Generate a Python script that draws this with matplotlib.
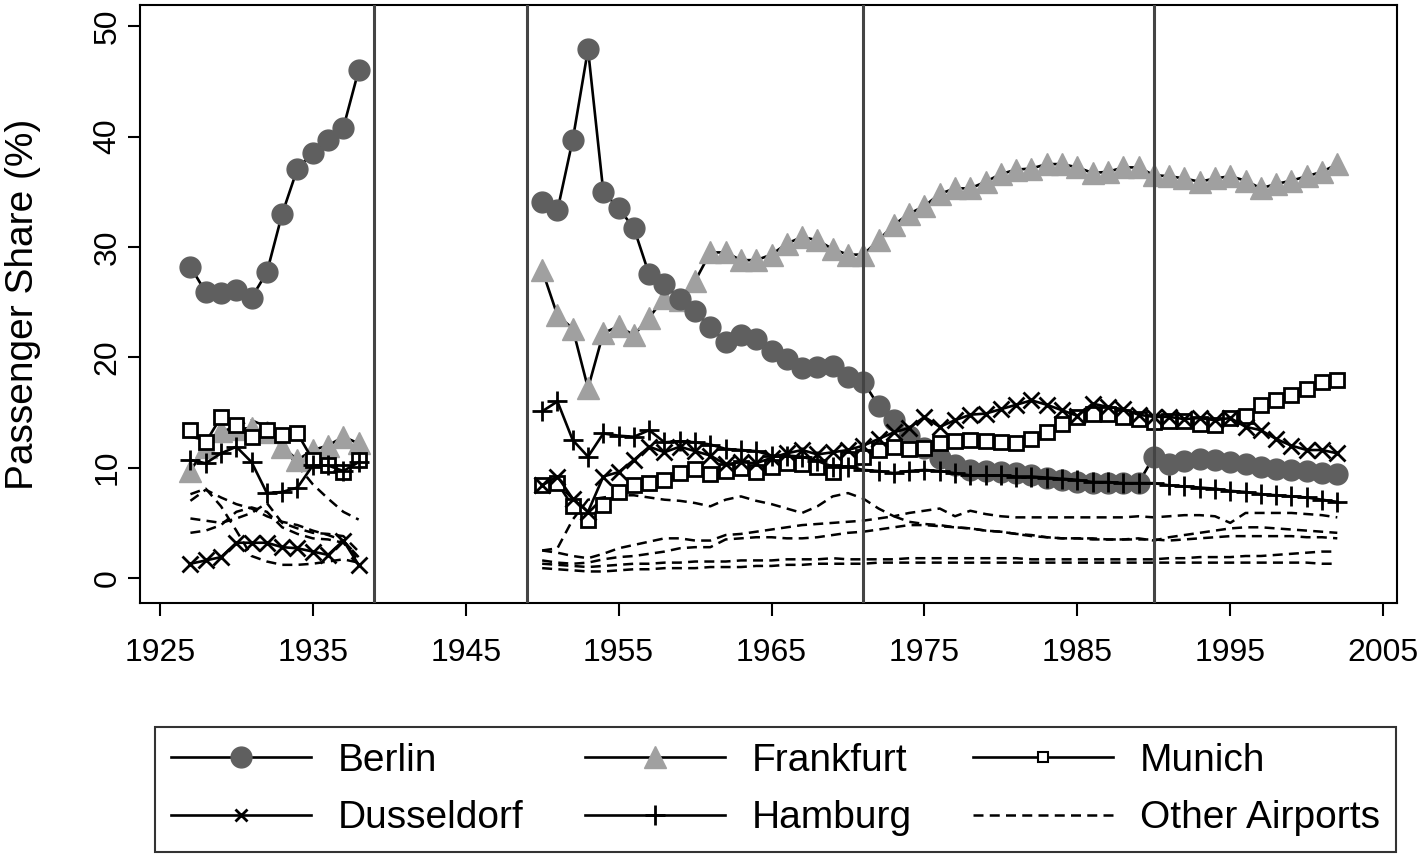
import numpy as np
import matplotlib
matplotlib.use("Agg")
import matplotlib.pyplot as plt
from matplotlib.lines import Line2D

plt.rcParams['font.family'] = ['Liberation Sans', 'DejaVu Sans']

# years of the two periods (gap 1939-1949)
years_pre = list(range(1927, 1939))
years_post = list(range(1950, 2003))

berlin_pre = [28.2, 25.9, 25.8, 26.1, 25.4, 27.7, 33.0, 37.1, 38.5, 39.7, 40.8, 46.0]
berlin_post = [34.1, 33.3, 39.7, 47.9, 35.0, 33.5, 31.7, 27.5, 26.6, 25.3,
               24.2, 22.7, 21.4, 22.0, 21.7, 20.6, 19.8, 19.0, 19.1, 19.2,
               18.2, 17.8, 15.6, 14.3, 12.9, 11.8, 10.9, 10.2, 9.8, 9.7,
               9.6, 9.5, 9.3, 9.1, 8.9, 8.7, 8.6, 8.6, 8.6, 8.6,
               11.0, 10.3, 10.6, 10.8, 10.7, 10.5, 10.3, 10.1, 9.9, 9.8,
               9.7, 9.5, 9.4]

frankfurt_pre = [9.7, 11.9, 13.3, 13.5, 13.6, 13.2, 11.9, 10.7, 11.6, 12.0, 12.8, 12.2]
frankfurt_post = [27.9, 23.8, 22.6, 17.2, 22.2, 22.8, 22.0, 23.6, 25.4, 25.2,
                  26.9, 29.5, 29.5, 28.8, 28.8, 29.3, 30.3, 30.9, 30.6, 29.8,
                  29.3, 29.3, 30.6, 32.0, 33.0, 33.7, 34.8, 35.3, 35.3, 35.9,
                  36.6, 37.0, 37.1, 37.5, 37.5, 37.2, 36.7, 36.8, 37.2, 37.2,
                  36.5, 36.4, 36.2, 35.9, 36.2, 36.4, 36.0, 35.3, 35.7, 36.0,
                  36.4, 36.8, 37.5]

munich_pre = [13.4, 12.3, 14.6, 13.9, 12.8, 13.4, 13.0, 13.1, 10.7, 10.2, 9.6, 10.7]
munich_post = [8.4, 8.6, 6.5, 5.3, 6.6, 7.8, 8.4, 8.6, 8.9, 9.5,
               9.9, 9.4, 9.7, 10.0, 9.6, 10.1, 10.4, 10.3, 10.1, 9.6,
               10.8, 11.0, 11.6, 11.9, 11.7, 11.8, 12.2, 12.4, 12.5, 12.4,
               12.3, 12.2, 12.6, 13.2, 14.0, 14.6, 14.9, 14.9, 14.6, 14.4,
               14.1, 14.2, 14.2, 14.0, 13.9, 14.5, 14.7, 15.7, 16.1, 16.6,
               17.1, 17.8, 17.9]

dusseldorf_pre = [1.3, 1.6, 1.9, 3.2, 3.2, 3.2, 2.8, 2.7, 2.4, 2.1, 3.4, 1.2]
dusseldorf_post = [8.4, 9.2, 7.2, 6.0, 9.2, 9.6, 10.7, 11.9, 11.4, 11.9,
                   11.5, 11.1, 10.3, 10.5, 10.4, 10.9, 11.3, 11.6, 11.2, 11.4,
                   11.6, 12.0, 12.6, 13.2, 13.6, 14.6, 13.7, 14.3, 14.8, 14.9,
                   15.3, 15.7, 16.1, 15.7, 15.2, 14.7, 15.8, 15.5, 15.3, 14.8,
                   14.6, 14.6, 14.4, 14.5, 14.3, 14.5, 13.7, 13.4, 12.6, 12.0,
                   11.6, 11.6, 11.3]

hamburg_pre = [10.7, 10.4, 11.3, 11.9, 10.5, 7.7, 7.8, 8.2, 10.2, 10.2, 9.7, 10.5]
hamburg_post = [15.1, 16.0, 12.5, 11.0, 13.1, 12.9, 12.8, 13.4, 12.3, 12.4,
                12.3, 12.1, 11.7, 11.6, 11.5, 11.1, 11.1, 11.0, 10.6, 10.1,
                10.1, 9.8, 9.7, 9.5, 9.7, 9.8, 9.7, 9.5, 9.3, 9.3,
                9.3, 9.2, 9.2, 9.1, 9.0, 8.9, 8.7, 8.7, 8.6, 8.6,
                8.6, 8.4, 8.3, 8.2, 8.1, 7.9, 7.8, 7.6, 7.5, 7.4,
                7.3, 7.1, 6.9]

# other airports (one list per airport)
other_pre = [
    [7.6, 8.1, 6.5, 4.3, 2.0, 1.5, 1.2, 1.2, 1.3, 1.5, 1.7, 1.4],
    [5.4, 5.2, 5.0, 5.4, 5.9, 6.8, 5.0, 4.5, 4.1, 4.0, 3.8, 2.4],
    [4.1, 4.3, 4.8, 6.0, 6.4, 6.0, 4.6, 4.0, 3.6, 3.5, 3.2, 1.6],
    [7.0, 8.0, 7.3, 6.7, 6.3, 5.6, 5.1, 4.8, 4.3, 3.9, 3.4, 1.9],
    [12.8, 12.5, 13.2, 13.8, 14.3, 13.7, 12.0, 10.2, 8.5, 7.2, 6.0, 5.3],
]
other_post = [
    [2.5, 2.7, 5.3, 7.1, 7.3, 7.5, 7.5, 7.3, 7.1, 7.0,
     6.8, 6.5, 7.1, 7.4, 7.0, 6.7, 6.3, 5.9, 6.5, 7.4,
     7.7, 7.2, 6.3, 5.6, 5.9, 6.1, 6.3, 5.6, 6.1, 5.8,
     5.6, 5.5, 5.5, 5.5, 5.5, 5.5, 5.5, 5.5, 5.5, 5.6,
     5.5, 5.6, 5.7, 5.7, 5.6, 5.0, 5.9, 5.9, 5.9, 5.9,
     5.8, 5.7, 5.5],
    [2.5, 2.3, 2.0, 1.8, 2.2, 2.7, 3.0, 3.3, 3.6, 3.6,
     3.4, 3.4, 3.9, 4.0, 4.2, 4.4, 4.6, 4.8, 4.9, 5.0,
     5.1, 5.2, 5.4, 5.6, 5.1, 4.9, 4.8, 4.6, 4.5, 4.3,
     4.2, 4.0, 3.8, 3.7, 3.6, 3.6, 3.6, 3.5, 3.5, 3.6,
     3.4, 3.7, 3.9, 4.1, 4.3, 4.5, 4.6, 4.6, 4.5, 4.4,
     4.3, 4.2, 4.1],
    [1.6, 1.4, 1.3, 1.4, 1.7, 1.9, 2.0, 2.2, 2.4, 2.7,
     2.8, 2.8, 3.5, 3.6, 3.7, 3.7, 3.6, 3.6, 3.7, 3.9,
     4.1, 4.2, 4.4, 4.6, 4.8, 4.8, 4.7, 4.6, 4.5, 4.3,
     4.2, 4.0, 3.9, 3.7, 3.6, 3.6, 3.5, 3.5, 3.5, 3.5,
     3.5, 3.4, 3.5, 3.6, 3.7, 3.8, 3.8, 3.8, 3.8, 3.8,
     3.7, 3.7, 3.6],
    [1.3, 1.2, 1.1, 1.0, 1.1, 1.2, 1.3, 1.3, 1.4, 1.4,
     1.5, 1.5, 1.5, 1.6, 1.6, 1.6, 1.7, 1.7, 1.7, 1.8,
     1.7, 1.7, 1.7, 1.7, 1.8, 1.8, 1.8, 1.8, 1.8, 1.8,
     1.8, 1.8, 1.7, 1.7, 1.7, 1.7, 1.7, 1.7, 1.7, 1.7,
     1.7, 1.8, 1.8, 1.9, 1.9, 1.9, 2.0, 2.0, 2.1, 2.2,
     2.3, 2.4, 2.4],
    [0.9, 0.8, 0.7, 0.6, 0.6, 0.7, 0.8, 0.8, 0.9, 0.9,
     0.9, 1.0, 1.0, 1.0, 1.1, 1.1, 1.2, 1.2, 1.3, 1.3,
     1.3, 1.3, 1.4, 1.4, 1.4, 1.4, 1.4, 1.4, 1.4, 1.4,
     1.4, 1.4, 1.4, 1.4, 1.4, 1.4, 1.4, 1.4, 1.4, 1.4,
     1.4, 1.4, 1.4, 1.4, 1.4, 1.4, 1.4, 1.4, 1.4, 1.4,
     1.4, 1.3, 1.3],
]

breaks = [1939, 1949, 1971, 1990]

years = years_pre + [1944] + years_post


def join(pre, post):
    return np.array(pre + [np.nan] + post, dtype=float)


DASH = (0, (4, 2.5))

fig = plt.figure(figsize=(14.24, 8.55), dpi=100)
ax = fig.add_axes([0.0983, 0.2947, 0.8827, 0.6993])

for pre, post in zip(other_pre, other_post):
    ax.plot(years, join(pre, post), color='black', lw=1.8, ls=DASH, zorder=2)

ax.plot(years, join(frankfurt_pre, frankfurt_post), color='black', lw=1.9, marker='^',
        ms=16, mfc='#a0a0a0', mec='#a0a0a0', zorder=3)
ax.plot(years, join(berlin_pre, berlin_post), color='black', lw=1.9, marker='o',
        ms=15, mfc='#5f5f5f', mec='#5f5f5f', zorder=4)
ax.plot(years, join(munich_pre, munich_post), color='black', lw=1.9, marker='s',
        ms=9.5, mfc='white', mec='black', mew=2, zorder=5)
ax.plot(years, join(dusseldorf_pre, dusseldorf_post), color='black', lw=1.9, marker='x',
        ms=11, mew=2, zorder=6)
ax.plot(years, join(hamburg_pre, hamburg_post), color='black', lw=1.9, marker='+',
        ms=15, mew=2, zorder=7)

for b in breaks:
    ax.axvline(b, color='#444444', lw=2.2, zorder=8)

ax.set_xlim(1923.7, 2005.9)
ax.set_ylim(-2.26, 51.9)
ax.set_xticks(range(1925, 2006, 10))
ax.set_yticks(range(0, 51, 10))
ax.tick_params(axis='both', labelsize=23, length=9, width=1.5, direction='out')
ax.tick_params(axis='x', pad=16)
for lbl in ax.get_yticklabels():
    lbl.set_rotation(90)
    lbl.set_va('center')
ax.set_ylabel('Passenger Share (%)', fontsize=28)
ax.yaxis.set_label_coords(-0.079, 0.5)
for sp in ax.spines.values():
    sp.set_linewidth(1.5)

handles = [
    Line2D([], [], color='black', lw=1.9, marker='o', ms=15, mfc='#5f5f5f', mec='#5f5f5f'),
    Line2D([], [], color='black', lw=1.9, marker='x', ms=9, mew=2),
    Line2D([], [], color='black', lw=1.9, marker='^', ms=16, mfc='#a0a0a0', mec='#a0a0a0'),
    Line2D([], [], color='black', lw=1.9, marker='+', ms=15, mew=2),
    Line2D([], [], color='black', lw=1.9, marker='s', ms=7, mfc='white', mec='black', mew=1.5),
    Line2D([], [], color='black', lw=1.8, ls=DASH),
]
labels = ['Berlin', 'Dusseldorf', 'Frankfurt', 'Hamburg', 'Munich', 'Other Airports']
leg = fig.legend(handles, labels, ncol=3, loc='center', mode='expand',
                 bbox_to_anchor=(0.109, 0.003, 0.871, 0.147), borderaxespad=0,
                 fontsize=28, frameon=True, fancybox=False, edgecolor='black',
                 handlelength=3.6, handletextpad=0.7, columnspacing=1.5,
                 borderpad=0.4, labelspacing=0.55)
leg.get_frame().set_linewidth(1.5)

fig.savefig('out.png', dpi=100)
